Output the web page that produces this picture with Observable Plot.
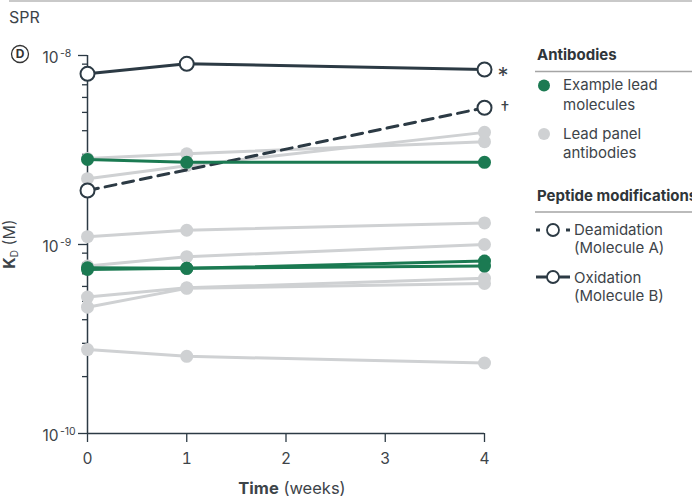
<!DOCTYPE html>
<html>
<head>
<meta charset="utf-8">
<script src="https://cdn.jsdelivr.net/npm/d3@7"></script>
<script src="https://cdn.jsdelivr.net/npm/@observablehq/plot@0.6"></script>
<style>
  body { margin: 0; background: #fff; }
  #wrap { position: relative; width: 692px; height: 497px; font-family: Inter, "Open Sans", sans-serif; }
  #chart, #overlay { position: absolute; left: 0; top: 0; }
  #overlay { pointer-events: none; }
</style>
</head>
<body>
<div id="wrap">
  <div id="chart"></div>
  <svg id="overlay" width="692" height="497"></svg>
</div>
<script>
// ---- Data (KD in M) ----
const weeks = [0, 1, 4];
const deamidationWeeks = [0, 4];

const leadPanelNames = ["P1", "P2", "P3", "P4", "P5", "P6", "P7"];
const leadPanelValues = [
  [2.85e-9, 3.02e-9, 3.50e-9],
  [2.23e-9, 2.61e-9, 3.92e-9],
  [1.10e-9, 1.19e-9, 1.30e-9],
  [7.69e-10, 8.62e-10, 1.00e-9],
  [5.27e-10, 5.90e-10, 6.62e-10],
  [4.66e-10, 5.86e-10, 6.22e-10],
  [2.78e-10, 2.56e-10, 2.36e-10]
];

const exampleLeadNames = ["E1", "E2", "E3"];
const exampleLeadValues = [
  [2.82e-9, 2.72e-9, 2.72e-9],
  [7.53e-10, 7.48e-10, 8.17e-10],
  [7.38e-10, 7.48e-10, 7.69e-10]
];

const deamidationValues = [1.93e-9, 5.29e-9];     // Molecule A
const oxidationValues = [8.0e-9, 9.04e-9, 8.43e-9]; // Molecule B

const majorTicks = [1e-10, 1e-9, 1e-8];
const minorTicks = [2,3,4,5,6,7,8,9].flatMap(m => [m * 1e-10, m * 1e-9]);
const xTicks = [0, 1, 2, 3, 4];

// ---- Colors ----
const GRAY = "#cfd1d3";
const GREEN = "#1b7a52";
const DARK = "#2c3a44";
const TEXT = "#3d4449";

// ---- Build tables ----
const toRows = (names, values, xs) =>
  names.flatMap((n, i) => values[i].map((v, j) => ({id: n, week: xs[j], kd: v})));
const grayRows = toRows(leadPanelNames, leadPanelValues, weeks);
const greenRows = toRows(exampleLeadNames, exampleLeadValues, weeks);
const deamRows = deamidationValues.map((v, j) => ({week: deamidationWeeks[j], kd: v}));
const oxRows = oxidationValues.map((v, j) => ({week: weeks[j], kd: v}));

const chart = Plot.plot({
  width: 692,
  height: 497,
  marginLeft: 87,
  marginRight: 208,
  marginTop: 55,
  marginBottom: 64,
  style: {fontFamily: "Inter, 'Open Sans', sans-serif", color: TEXT, background: "transparent"},
  x: {domain: [0, 4]},
  y: {type: "log", domain: [1e-10, 1e-8]},
  marks: [
    Plot.axisX(xTicks, {tickSize: 9, tickPadding: 10, fontSize: 15.5, stroke: DARK, strokeWidth: 1.3, fill: TEXT, label: null, tickFormat: d => String(d)}),
    Plot.axisY(minorTicks, {tickSize: 5, stroke: DARK, strokeWidth: 1.3, tickFormat: () => "", label: null}),
    Plot.axisY(majorTicks, {tickSize: 9, stroke: DARK, strokeWidth: 1.3, tickFormat: () => "", label: null}),
    Plot.text(majorTicks, {y: d => d, frameAnchor: "left", dx: -45, dy: 2.5, textAnchor: "start", text: () => "10", fontSize: 15.5, fill: TEXT}),
    Plot.text(majorTicks, {y: d => d, frameAnchor: "left", dx: -27.5, dy: -2, textAnchor: "start", text: d => String(Math.round(Math.log10(d))).replace("\u2212", "-"), fontSize: 10.5, fill: TEXT}),
    Plot.ruleX([0], {stroke: DARK, strokeWidth: 1.5}),
    Plot.ruleY([1e-10], {stroke: DARK, strokeWidth: 1.5}),
    // Lead panel antibodies
    Plot.line(grayRows, {x: "week", y: "kd", z: "id", stroke: GRAY, strokeWidth: 3}),
    Plot.dot(grayRows, {x: "week", y: "kd", r: 6.5, fill: GRAY}),
    // Deamidation (Molecule A)
    Plot.line(deamRows, {x: "week", y: "kd", stroke: DARK, strokeWidth: 3, strokeDasharray: "11,7"}),
    // Example lead molecules
    Plot.line(greenRows, {x: "week", y: "kd", z: "id", stroke: GREEN, strokeWidth: 3}),
    Plot.dot(greenRows, {x: "week", y: "kd", r: 6.5, fill: GREEN}),
    // Oxidation (Molecule B)
    Plot.line(oxRows, {x: "week", y: "kd", stroke: DARK, strokeWidth: 3}),
    Plot.dot(deamRows, {x: "week", y: "kd", r: 7, fill: "white", stroke: DARK, strokeWidth: 2}),
    Plot.dot(oxRows, {x: "week", y: "kd", r: 7, fill: "white", stroke: DARK, strokeWidth: 2}),
    Plot.text([oxRows[oxRows.length - 1]], {x: "week", y: "kd", text: () => "*", dx: 13, dy: 6, textAnchor: "start", fontSize: 22, fill: TEXT}),
    Plot.text([deamRows[deamRows.length - 1]], {x: "week", y: "kd", text: () => "\u2020", dx: 16, dy: 1, textAnchor: "start", fontSize: 18, fill: TEXT})
  ]
});
document.getElementById("chart").appendChild(chart);

// ---- Overlay: titles and legend ----
const o = d3.select("#overlay");
const FONT = "Inter, 'Open Sans', sans-serif";
o.append("rect").attr("x", 9).attr("y", 0).attr("width", 683).attr("height", 2).attr("fill", "#c9c9c9");
o.append("text").attr("x", 9).attr("y", 23).attr("font-family", FONT).attr("font-size", 16).attr("fill", TEXT).text("SPR");
o.append("circle").attr("cx", 20).attr("cy", 54).attr("r", 8.5).attr("fill", "none").attr("stroke", "#333").attr("stroke-width", 1.3);
o.append("text").attr("x", 20).attr("y", 58.3).attr("text-anchor", "middle").attr("font-family", FONT).attr("font-size", 12).attr("font-weight", 700).attr("fill", "#333").text("D");

// Y axis label
const yl = o.append("text").attr("transform", "translate(14.5,244) rotate(-90)").attr("text-anchor", "middle")
  .attr("font-family", FONT).attr("font-size", 16).attr("fill", TEXT);
yl.append("tspan").attr("font-weight", 700).text("K");
yl.append("tspan").attr("font-size", 10).attr("dy", 3).text("D");
yl.append("tspan").attr("dy", -3).text(" (M)");

// X axis label
const xl = o.append("text").attr("x", 292).attr("y", 494).attr("text-anchor", "middle")
  .attr("font-family", FONT).attr("font-size", 16.5).attr("fill", TEXT);
xl.append("tspan").attr("font-weight", 700).text("Time");
xl.append("tspan").text(" (weeks)");

// Legend
const L = o.append("g").attr("font-family", FONT).attr("font-size", 15).attr("fill", TEXT);
L.append("text").attr("x", 537).attr("y", 60).attr("font-weight", 700).attr("fill", "#2f3539").text("Antibodies");
L.append("line").attr("x1", 535).attr("x2", 692).attr("y1", 71.5).attr("y2", 71.5).attr("stroke", "#a5a5a5").attr("stroke-width", 1.5);
L.append("circle").attr("cx", 544).attr("cy", 85.5).attr("r", 6).attr("fill", GREEN);
L.append("text").attr("x", 563).attr("y", 90).text("Example lead");
L.append("text").attr("x", 563).attr("y", 109.5).text("molecules");
L.append("circle").attr("cx", 544).attr("cy", 134).attr("r", 6).attr("fill", GRAY);
L.append("text").attr("x", 563).attr("y", 139).text("Lead panel");
L.append("text").attr("x", 563).attr("y", 158).text("antibodies");
L.append("text").attr("x", 537).attr("y", 200.5).attr("font-weight", 700).attr("fill", "#2f3539").text("Peptide modifications");
L.append("line").attr("x1", 535).attr("x2", 692).attr("y1", 212).attr("y2", 212).attr("stroke", "#a5a5a5").attr("stroke-width", 1.5);
// deamidation symbol
L.append("line").attr("x1", 536).attr("x2", 540).attr("y1", 230).attr("y2", 230).attr("stroke", DARK).attr("stroke-width", 3);
L.append("line").attr("x1", 566).attr("x2", 570).attr("y1", 230).attr("y2", 230).attr("stroke", DARK).attr("stroke-width", 3);
L.append("circle").attr("cx", 553).attr("cy", 230).attr("r", 6).attr("fill", "white").attr("stroke", DARK).attr("stroke-width", 1.8);
L.append("text").attr("x", 574).attr("y", 234.5).text("Deamidation");
L.append("text").attr("x", 574).attr("y", 253).text("(Molecule A)");
// oxidation symbol
L.append("line").attr("x1", 536).attr("x2", 570).attr("y1", 277).attr("y2", 277).attr("stroke", DARK).attr("stroke-width", 3);
L.append("circle").attr("cx", 553).attr("cy", 277).attr("r", 6).attr("fill", "white").attr("stroke", DARK).attr("stroke-width", 1.8);
L.append("text").attr("x", 574).attr("y", 282.5).text("Oxidation");
L.append("text").attr("x", 574).attr("y", 300.5).text("(Molecule B)");
</script>
</body>
</html>
